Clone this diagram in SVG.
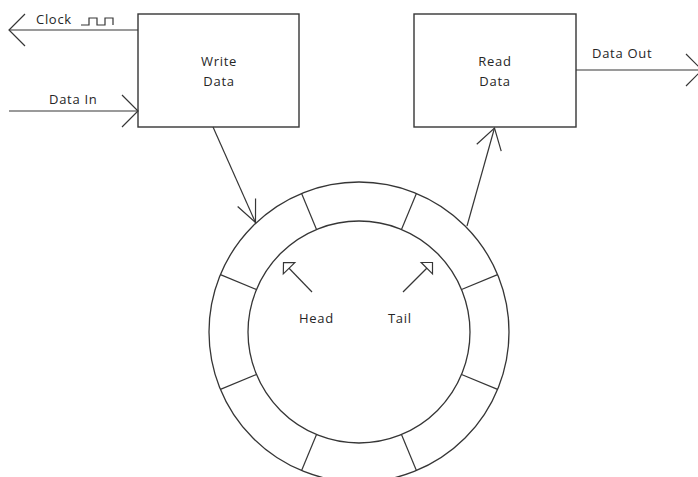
<svg xmlns="http://www.w3.org/2000/svg" width="698" height="477" viewBox="0 0 698 477">
  <style>
    .ln { fill: none; stroke: #363636; stroke-width: 1.2; }
    .box { fill: #fff; stroke: #363636; stroke-width: 1.4; }
    .ring { fill: #fff; stroke: #363636; stroke-width: 1.3; }
    .lbl { font-family: "Open Sans", "Noto Sans", "DejaVu Sans", sans-serif; font-size: 13px; fill: #262626; letter-spacing: 0.7px; }
    .mid { text-anchor: middle; }
  </style>
  <defs>
    <!-- wide open arrowhead (45 degree arms) -->
    <marker id="openWide" markerUnits="userSpaceOnUse" markerWidth="20" markerHeight="36" viewBox="-18 -18 20 36" refX="0" refY="0" orient="auto" overflow="visible">
      <path d="M-16,-16 L0,0 L-16,16" fill="none" stroke="#363636" stroke-width="1.2"/>
    </marker>
    <!-- narrow open arrowhead (about 24 degree arms) -->
    <marker id="openNarrow" markerUnits="userSpaceOnUse" markerWidth="24" markerHeight="24" viewBox="-23 -12 24 24" refX="0" refY="0" orient="auto" overflow="visible">
      <path d="M-21.9,-9.8 L0,0 L-21.9,9.8" fill="none" stroke="#363636" stroke-width="1.2"/>
    </marker>
    <!-- medium open arrowhead (about 32 degree arms) -->
    <marker id="openMedium" markerUnits="userSpaceOnUse" markerWidth="24" markerHeight="28" viewBox="-22 -14 24 28" refX="0" refY="0" orient="auto" overflow="visible">
      <path d="M-20.4,-12.7 L0,0 L-20.4,12.7" fill="none" stroke="#363636" stroke-width="1.2"/>
    </marker>
    <!-- hollow triangle pointer head -->
    <marker id="hollowTri" markerUnits="userSpaceOnUse" markerWidth="12" markerHeight="20" viewBox="-10 -10 12 20" refX="0" refY="0" orient="auto" overflow="visible">
      <path d="M0,0 L-8,-8 L-8,8 Z" fill="#fff" stroke="#363636" stroke-width="1.2"/>
    </marker>
  </defs>

  <!-- ring buffer -->
  <g id="ring-buffer">
    <circle class="ring" cx="359" cy="332" r="150"/>
    <circle class="ring" cx="359" cy="332" r="111"/>
    <g class="ln">
      <line x1="401.48" y1="229.45" x2="416.40" y2="193.42"/>
      <line x1="461.55" y1="289.52" x2="497.58" y2="274.60"/>
      <line x1="461.55" y1="374.48" x2="497.58" y2="389.40"/>
      <line x1="401.48" y1="434.55" x2="416.40" y2="470.58"/>
      <line x1="316.52" y1="434.55" x2="301.60" y2="470.58"/>
      <line x1="256.45" y1="374.48" x2="220.42" y2="389.40"/>
      <line x1="256.45" y1="289.52" x2="220.42" y2="274.60"/>
      <line x1="316.52" y1="229.45" x2="301.60" y2="193.42"/>
    </g>
  </g>

  <!-- write side -->
  <g id="write-data">
    <rect class="box" x="138" y="14" width="161" height="113"/>
    <text class="lbl mid" x="219" y="66">Write</text>
    <text class="lbl mid" x="219" y="86">Data</text>
  </g>

  <!-- read side -->
  <g id="read-data">
    <rect class="box" x="414" y="14" width="162" height="113"/>
    <text class="lbl mid" x="495" y="66">Read</text>
    <text class="lbl mid" x="495" y="86">Data</text>
  </g>

  <!-- head / tail pointers -->
  <g id="head">
    <line class="ln" x1="312" y1="292" x2="283.5" y2="262.5" marker-end="url(#hollowTri)"/>
    <text class="lbl" x="299" y="323">Head</text>
  </g>
  <g id="tail">
    <line class="ln" x1="403" y1="292" x2="432.5" y2="262.5" marker-end="url(#hollowTri)"/>
    <text class="lbl" x="388" y="323">Tail</text>
  </g>

  <!-- connectors -->
  <g id="connectors">
    <line class="ln" x1="138" y1="30" x2="9" y2="30" marker-end="url(#openWide)"/>
    <line class="ln" x1="9" y1="111" x2="138" y2="111" marker-end="url(#openWide)"/>
    <line class="ln" x1="576" y1="70" x2="702" y2="70" marker-end="url(#openWide)"/>
    <line class="ln" x1="213" y1="127" x2="255.5" y2="222.5" marker-end="url(#openNarrow)"/>
    <line class="ln" x1="467" y1="226" x2="494.5" y2="128" marker-end="url(#openMedium)"/>
  </g>

  <!-- connector labels -->
  <g id="labels">
    <text class="lbl" x="36" y="24">Clock</text>
    <polyline class="ln" points="81,25 89,25 89,18 97,18 97,25 105,25 105,18 113,18 113,25"/>
    <text class="lbl" x="49" y="104">Data In</text>
    <text class="lbl" x="592" y="58">Data Out</text>
  </g>
</svg>
